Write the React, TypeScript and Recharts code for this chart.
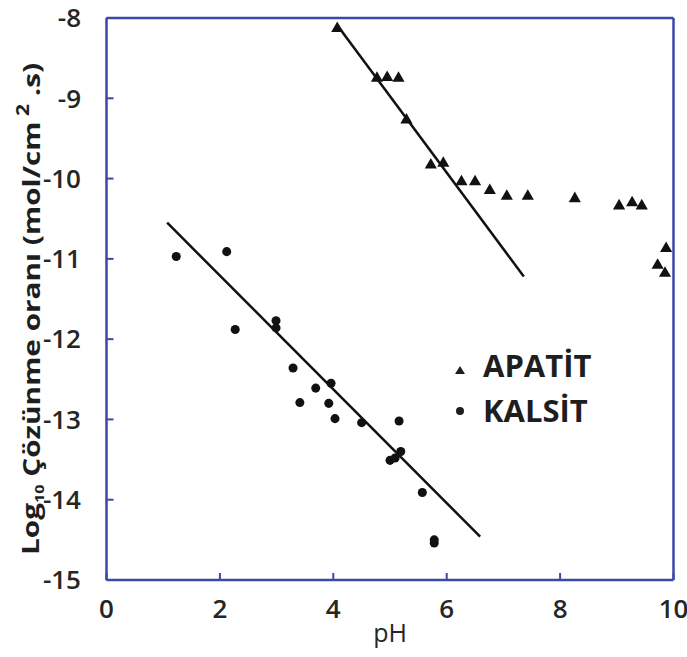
import React from 'react';
import { ScatterChart, Scatter, XAxis, YAxis, ZAxis, Legend } from 'recharts';

const apatitePH = [4.07, 4.77, 4.95, 5.15, 5.29, 5.72, 5.94, 6.26, 6.5, 6.76, 7.06, 7.43, 8.26, 9.04, 9.27, 9.44, 9.87, 9.72, 9.85];
const apatiteRate = [-8.13, -8.75, -8.74, -8.75, -9.27, -9.83, -9.81, -10.04, -10.04, -10.15, -10.22, -10.22, -10.25, -10.34, -10.3, -10.34, -10.87, -11.08, -11.18];

const kalsitPH = [1.23, 2.12, 2.27, 2.99, 2.99, 3.29, 3.41, 3.69, 3.96, 3.92, 4.03, 4.5, 5.16, 5.0, 5.09, 5.19, 5.57, 5.78, 5.78];
const kalsitRate = [-10.97, -10.91, -11.88, -11.77, -11.86, -12.36, -12.79, -12.61, -12.55, -12.8, -12.99, -13.04, -13.02, -13.51, -13.48, -13.4, -13.91, -14.5, -14.54];

const apatiteFitPH = [4.09, 7.36];
const apatiteFitRate = [-8.11, -11.22];
const kalsitFitPH = [1.07, 6.59];
const kalsitFitRate = [-10.55, -14.46];

const xTicks = [0, 2, 4, 6, 8, 10];
const yTicks = [-15, -14, -13, -12, -11, -10, -9, -8];
const seriesNames = ['APATİT', 'KALSİT'];

const toPts = (xs: number[], ys: number[]) => xs.map((x, i) => ({ pH: x, rate: ys[i] }));
const apatite = toPts(apatitePH, apatiteRate);
const kalsit = toPts(kalsitPH, kalsitRate);
const apatiteFit = toPts(apatiteFitPH, apatiteFitRate);
const kalsitFit = toPts(kalsitFitPH, kalsitFitRate);

const BLUE = '#3d47a8';
const INK = '#1e1e1e';
const FONT = '"Open Sans", "Noto Sans", sans-serif';

const YLabel = (props: any) => {
  const vb = props && props.viewBox ? props.viewBox : { x: 0, y: 17, width: 106.5, height: 563 };
  const cx = vb.x + 30;
  const cy = vb.y + vb.height / 2 + 10;
  return (
    <text
      x={0}
      y={0}
      transform={`translate(${cx}, ${cy}) rotate(-90) scale(1.24, 1)`}
      textAnchor="middle"
      dominantBaseline="central"
      fontFamily={FONT}
      fontWeight={700}
      fontSize={24}
      fill={INK}
    >
      Log
      <tspan fontSize={13} dy={9}>10</tspan>
      <tspan dy={-9}> Çözünme oranı (mol/cm</tspan>
      <tspan fontSize={17} dy={-7}> 2</tspan>
      <tspan dy={7}> .s)</tspan>
    </text>
  );
};

const renderLegend = () => (
  <div style={{ fontFamily: FONT, fontWeight: 700, fontSize: 31, color: INK }}>
    {seriesNames.map((name, i) => (
      <div key={name} style={{ display: 'flex', alignItems: 'center', height: 45 }}>
        <svg
          width={14}
          height={14}
          style={{ marginRight: 16, position: 'relative', top: i === 0 ? 5 : 1 }}
        >
          {i === 0 ? (
            <polygon points="7,3 12,11 2,11" fill={INK} />
          ) : (
            <circle cx={7} cy={7} r={4} fill={INK} />
          )}
        </svg>
        <span style={{ lineHeight: '45px' }}>{name}</span>
      </div>
    ))}
  </div>
);

const tickStyle = { fill: '#262626', fontSize: 26, fontFamily: FONT, fontWeight: 600 };

export default function App() {
  return (
    <div style={{ position: 'absolute', left: 0, top: 0 }}>
      <ScatterChart width={687} height={657} margin={{ top: 17, right: 12.5, bottom: 0, left: 0 }}>
        <XAxis
          xAxisId={0}
          type="number"
          dataKey="pH"
          domain={[0, 10]}
          ticks={xTicks}
          interval={0}
          height={77}
          axisLine={{ stroke: BLUE, strokeWidth: 2.5 }}
          tickLine={{ stroke: BLUE, strokeWidth: 2 }}
          tickSize={-7}
          tickMargin={27}
          tick={tickStyle}
          label={{ value: 'pH', position: 'insideBottom', offset: 15, fill: '#262626', fontSize: 25, fontFamily: FONT }}
        />
        <XAxis
          xAxisId="top"
          orientation="top"
          type="number"
          domain={[0, 10]}
          ticks={xTicks}
          interval={0}
          height={1}
          axisLine={{ stroke: BLUE, strokeWidth: 2.5 }}
          tickLine={{ stroke: BLUE, strokeWidth: 2 }}
          tickSize={-7}
          tick={false}
        />
        <YAxis
          yAxisId={0}
          type="number"
          dataKey="rate"
          domain={[-15, -8]}
          ticks={yTicks}
          interval={0}
          width={106.5}
          axisLine={{ stroke: BLUE, strokeWidth: 2.5 }}
          tickLine={{ stroke: BLUE, strokeWidth: 2 }}
          tickSize={-7}
          tickMargin={32.5}
          tick={tickStyle}
          label={YLabel}
        />
        <YAxis
          yAxisId="right"
          orientation="right"
          type="number"
          domain={[-15, -8]}
          ticks={yTicks}
          interval={0}
          width={1}
          axisLine={{ stroke: BLUE, strokeWidth: 2.5 }}
          tickLine={{ stroke: BLUE, strokeWidth: 2 }}
          tickSize={-7}
          tick={false}
        />
        <ZAxis range={[62, 62]} />
        <Scatter
          name="apatiteFit"
          data={apatiteFit}
          line={{ stroke: '#111', strokeWidth: 2.5 }}
          shape={() => <g />}
          legendType="none"
          isAnimationActive={false}
        />
        <Scatter
          name="kalsitFit"
          data={kalsitFit}
          line={{ stroke: '#111', strokeWidth: 2.5 }}
          shape={() => <g />}
          legendType="none"
          isAnimationActive={false}
        />
        <Scatter name={seriesNames[0]} data={apatite} shape="triangle" fill="#111" isAnimationActive={false} />
        <Scatter name={seriesNames[1]} data={kalsit} shape="circle" fill="#111" isAnimationActive={false} />
        <Legend
          layout="vertical"
          align="center"
          verticalAlign="middle"
          content={renderLegend}
          wrapperStyle={{ left: 453, top: 342.5, width: 180 }}
        />
      </ScatterChart>
    </div>
  );
}
